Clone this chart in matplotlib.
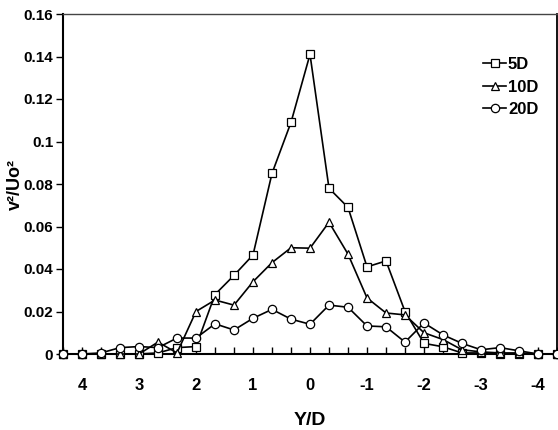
#!/usr/bin/env python
"""Lateral profiles of v^2/Uo^2 at three downstream stations."""

import matplotlib

matplotlib.use("Agg")
import matplotlib.pyplot as plt
from matplotlib.ticker import FixedLocator

# Y/D stations, 1/3 D apart, from +4.33 down to -4.33
y_d = [13 / 3, 4, 11 / 3, 10 / 3, 3, 8 / 3, 7 / 3, 2, 5 / 3, 4 / 3, 1, 2 / 3, 1 / 3, 0,
       -1 / 3, -2 / 3, -1, -4 / 3, -5 / 3, -2, -7 / 3, -8 / 3, -3, -10 / 3, -11 / 3, -4, -13 / 3]

v2_5d = [0.0, 0.0, 0.0, 0.0, 0.0, 0.0005, 0.003, 0.0035, 0.028, 0.037, 0.0466, 0.085, 0.109, 0.141,
         0.078, 0.069, 0.041, 0.0438, 0.020, 0.005, 0.0034, 0.0005, 0.0005, 0.0, 0.0, 0.0, 0.0]
v2_10d = [0.0, 0.0, 0.0, 0.0, 0.0, 0.0056, 0.0005, 0.0200, 0.0254, 0.023, 0.034, 0.043, 0.050, 0.0498,
          0.062, 0.047, 0.0264, 0.0193, 0.0184, 0.010, 0.0068, 0.002, 0.001, 0.0005, 0.0005, 0.0, 0.0]
v2_20d = [0.0, 0.0, 0.0005, 0.003, 0.0035, 0.003, 0.0075, 0.0075, 0.0142, 0.0113, 0.0168, 0.021, 0.0164, 0.014,
          0.023, 0.022, 0.0132, 0.0128, 0.0056, 0.0146, 0.009, 0.005, 0.002, 0.003, 0.0015, 0.0, 0.0]

series = [("5D", v2_5d, "s"), ("10D", v2_10d, "^"), ("20D", v2_20d, "o")]

x_labels = [4, 3, 2, 1, 0, -1, -2, -3, -4]
y_ticks = [0, 0.02, 0.04, 0.06, 0.08, 0.1, 0.12, 0.14, 0.16]
y_tick_labels = ["0", "0.02", "0.04", "0.06", "0.08", "0.1", "0.12", "0.14", "0.16"]

plt.rcParams["font.family"] = ["Liberation Sans", "DejaVu Sans"]
plt.rcParams["font.weight"] = "bold"

fig = plt.figure(figsize=(5.58, 4.3), dpi=100)
ax = fig.add_axes([63 / 558, 1 - 354 / 430, (557 - 63) / 558, (354 - 14) / 430])

for name, values, marker in series:
    ax.plot(y_d, values, color="black", lw=1.2, marker=marker, markersize=6 if marker != "^" else 5.5,
            markerfacecolor="white", markeredgecolor="black", markeredgewidth=0.9,
            label=name, clip_on=False, zorder=3)

ax.set_xlim(13 / 3, -13 / 3)
ax.set_ylim(0, 0.16)

# labelled ticks at whole Y/D, plain tick marks every 1/3 D
ax.xaxis.set_major_locator(FixedLocator(x_labels))
ax.xaxis.set_minor_locator(FixedLocator([k / 3 for k in range(-13, 14)]))
ax.set_xticklabels([str(v) for v in x_labels], fontsize=12, fontweight="bold")
ax.tick_params(axis="x", which="both", direction="in", length=5, width=1, pad=17)

ax.set_yticks(y_ticks)
ax.set_yticklabels(y_tick_labels, fontsize=11, fontweight="bold")
ax.tick_params(axis="y", direction="out", length=5, width=1, pad=2)

for side in ("left", "bottom"):
    ax.spines[side].set_linewidth(1.5)
ax.spines["right"].set_linewidth(1.3)
ax.spines["top"].set_linewidth(1.0)
ax.spines["top"].set_color("#444444")

ax.set_xlabel("Y/D", fontsize=14, fontweight="bold", labelpad=14)
fig.text(15 / 558, 1 - 185 / 430, "v²/Uo²", rotation=90, fontsize=13, fontweight="bold",
         ha="center", va="center")

ax.legend(loc="upper left", bbox_to_anchor=((483 - 63) / (557 - 63), 1 - (57 - 14) / 340),
          frameon=False, fontsize=12, handlelength=1.4, handletextpad=0.1,
          labelspacing=0.45, borderaxespad=0, borderpad=0)

fig.savefig("out.png", dpi=100)
